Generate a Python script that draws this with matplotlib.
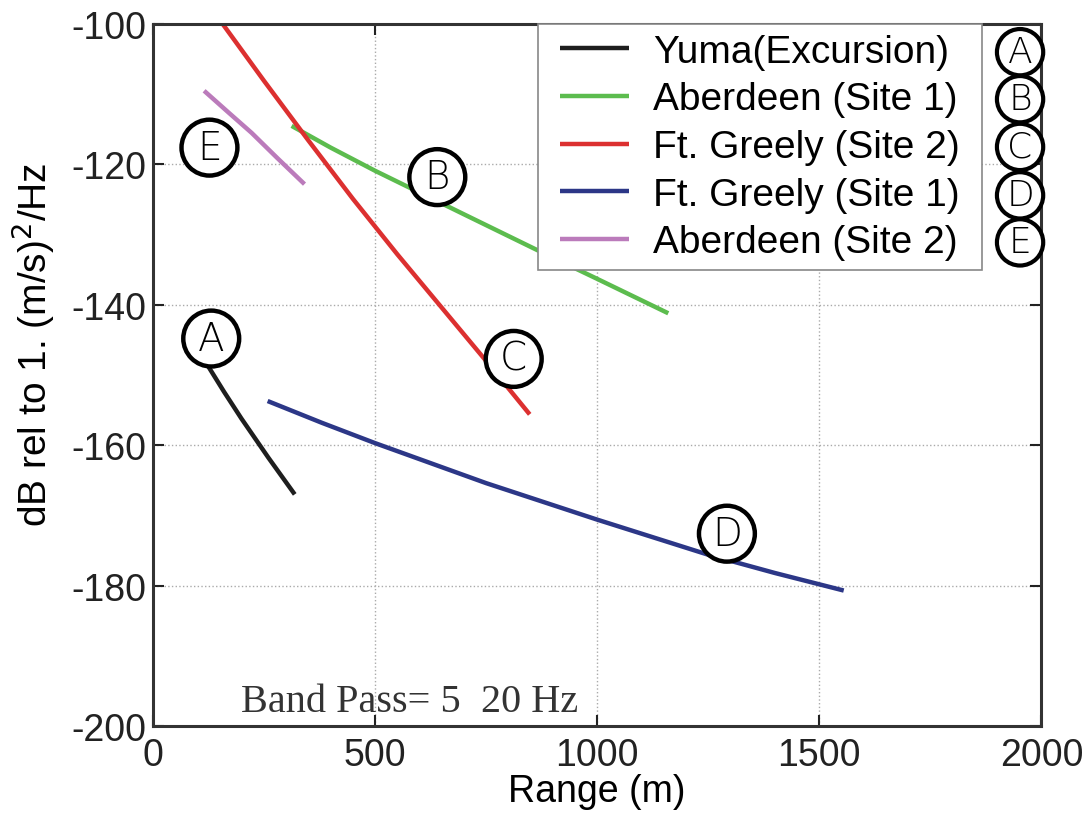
#!/usr/bin/env python3
"""
Atenuación de la velocidad sísmica con la distancia para cinco sitios de prueba.
Genera out.png.
"""

import matplotlib.pyplot as plt
from matplotlib.lines import Line2D
from matplotlib.legend_handler import HandlerLine2D

# Curvas de nivel (Range en m, nivel en dB rel 1 (m/s)^2/Hz)
yuma_range = [109, 160, 199, 260, 319]
yuma_db = [-147.2, -152.4, -156.2, -161.8, -167.0]

aberdeen1_range = [312, 400, 500, 700, 878, 1000, 1160]
aberdeen1_db = [-114.5, -117.6, -120.9, -127.1, -132.6, -136.3, -141.2]

greely2_range = [157, 250, 350, 450, 550, 650, 750, 848]
greely2_db = [-100.0, -108.1, -116.6, -124.9, -132.8, -140.4, -148.0, -155.6]

greely1_range = [258, 380, 500, 750, 1000, 1250, 1400, 1555]
greely1_db = [-153.7, -156.8, -159.7, -165.4, -170.6, -175.6, -178.2, -180.7]

aberdeen2_range = [115, 170, 222, 280, 341]
aberdeen2_db = [-109.5, -112.6, -115.5, -119.1, -122.8]

# Etiquetas circulares sobre cada curva
tag_letters = ['A', 'B', 'C', 'D', 'E']
tag_range = [131, 640, 812, 1292, 127]
tag_db = [-144.8, -121.8, -147.7, -172.6, -117.6]

series = [
    ('Yuma(Excursion)', yuma_range, yuma_db, '#1e1e1e'),
    ('Aberdeen (Site 1)', aberdeen1_range, aberdeen1_db, '#5cbc4e'),
    ('Ft. Greely (Site 2)', greely2_range, greely2_db, '#dc3030'),
    ('Ft. Greely (Site 1)', greely1_range, greely1_db, '#2c3787'),
    ('Aberdeen (Site 2)', aberdeen2_range, aberdeen2_db, '#bb7bbb'),
]

plt.rcParams['font.family'] = 'Liberation Sans'
plt.rcParams['font.size'] = 27
plt.rcParams['axes.unicode_minus'] = False

fig = plt.figure(figsize=(10.9, 8.2), dpi=100)
ax = fig.add_axes([0.1404, 0.1134, 0.815, 0.856])

for name, xs, ys, color in series:
    ax.plot(xs, ys, color=color, linewidth=3.2, label=name, solid_capstyle='butt')

circle_box = dict(boxstyle='circle,pad=0.23', fc='white', ec='black', lw=3.2)
for letter, x, y in zip(tag_letters, tag_range, tag_db):
    ax.text(x, y, letter, ha='center', va='center', fontsize=28,
            family='DejaVu Sans', fontweight='light', bbox=circle_box, zorder=5)

ax.set_xlim(0, 2000)
ax.set_ylim(-200, -100)
ax.set_xticks([0, 500, 1000, 1500, 2000])
ax.set_yticks([-200, -180, -160, -140, -120, -100])
ax.tick_params(direction='in', length=8, width=1.5, top=True, right=True,
               labelsize=27, colors='#222222')
ax.tick_params(axis='x', pad=8)
ax.tick_params(axis='y', pad=5)
ax.grid(True, linestyle=':', color='#aaaaaa', linewidth=1.0)
for sp in ax.spines.values():
    sp.set_linewidth(2.2)
    sp.set_color('#333333')

ax.set_xlabel('Range (m)', fontsize=27, labelpad=0)
ax.set_ylabel(r'dB rel to 1. (m/s)$^2$/Hz', fontsize=28)
ax.yaxis.set_label_coords(-0.108, 0.545)

ax.text(198, -197.9, 'Band Pass= 5  20 Hz', family='Liberation Serif',
        fontsize=29, color='#333333', ha='left', va='baseline')

leg = ax.legend(loc='upper left', bbox_to_anchor=(0.433, 0.0, 0.5006, 1.0),
                mode='expand', fontsize=28, handlelength=2.09,
                handletextpad=0.62, labelspacing=0.30, borderpad=0.25,
                borderaxespad=0, fancybox=False, framealpha=1,
                handler_map={Line2D: HandlerLine2D(xpad=0.316)})
leg.get_frame().set_edgecolor('#888888')
leg.get_frame().set_linewidth(1.2)

# Letras de referencia junto a la leyenda
legend_rows = [0.960, 0.893, 0.825, 0.756, 0.689]
for letter, yf in zip(tag_letters, legend_rows):
    ax.text(0.976, yf, letter, transform=ax.transAxes, ha='center', va='center',
            fontsize=26, family='DejaVu Sans', fontweight='light',
            bbox=dict(boxstyle='circle,pad=0.17', fc='white', ec='black', lw=3.0),
            zorder=6, clip_on=False)

fig.savefig('out.png', dpi=100)
